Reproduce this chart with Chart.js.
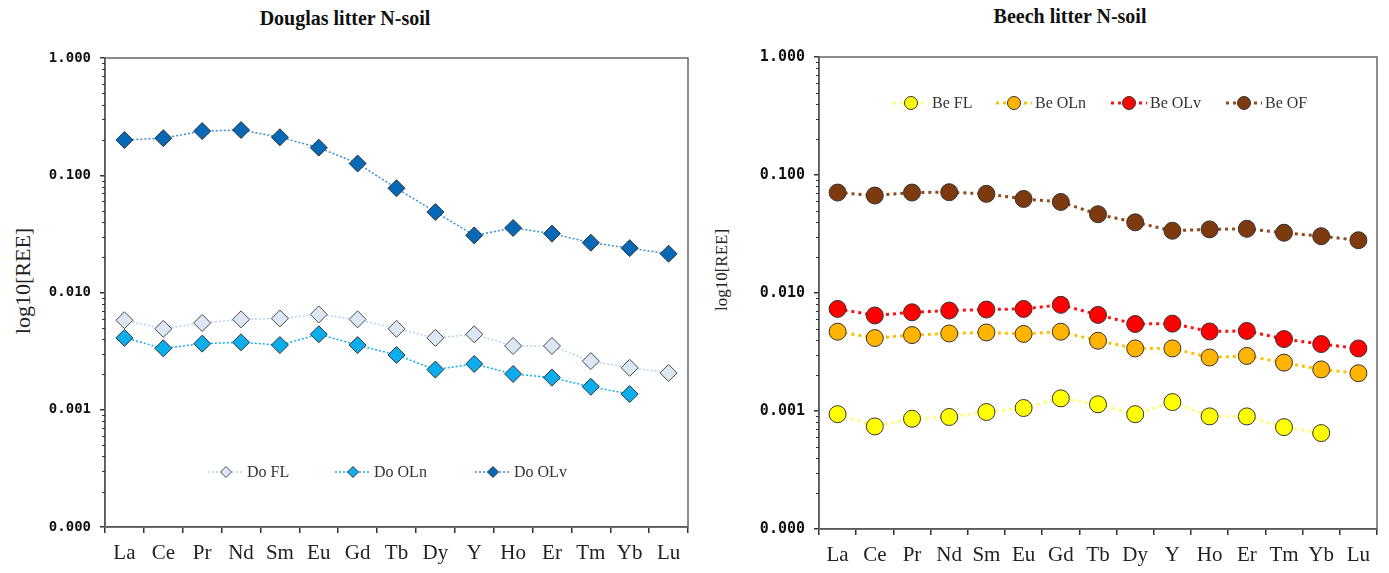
<!DOCTYPE html>
<html>
<head>
<meta charset="utf-8">
<script src="https://cdn.jsdelivr.net/npm/chart.js@4.4.0/dist/chart.umd.min.js"></script>
<style>
    body { margin: 0; background: #fff; width: 1389px; height: 573px; position: relative; overflow: hidden; font-family: "Liberation Serif", "Times New Roman", serif; }
    canvas { position: absolute; top: 0; }
    .titulo { position: absolute; font-weight: bold; font-size: 20px; color: #111; transform: translateX(-50%); white-space: nowrap; }
    .eixo { position: absolute; transform: translate(-50%, -50%) rotate(-90deg); white-space: nowrap; color: #222; }
</style>
</head>
<body>
<div class="titulo" style="left:345px; top:7px;">Douglas litter N-soil</div>
<div class="titulo" style="left:1070px; top:5px;">Beech litter N-soil</div>
<div class="eixo" style="left:23px; top:281px; font-size:22px;">log10[REE]</div>
<div class="eixo" style="left:722px; top:270px; font-size:17px;">log10[REE]</div>
<canvas id="chartDouglas" width="700" height="573" style="left:0px;"></canvas>
<canvas id="chartBeech" width="689" height="573" style="left:700px;"></canvas>
<script>
// Elementos (eixo x) e marcas do eixo y
const elementos = ['La', 'Ce', 'Pr', 'Nd', 'Sm', 'Eu', 'Gd', 'Tb', 'Dy', 'Y', 'Ho', 'Er', 'Tm', 'Yb', 'Lu'];
const yTicks = [0.0001, 0.001, 0.01, 0.1, 1];

// Douglas
const doFL  = [0.0058, 0.0049, 0.0055, 0.0059, 0.0060, 0.0065, 0.0059, 0.0049, 0.0041, 0.0044, 0.0035, 0.0035, 0.0026, 0.00228, 0.00206];
const doOLn = [0.0041, 0.00334, 0.00366, 0.00376, 0.00356, 0.0044, 0.00356, 0.00293, 0.0022, 0.00246, 0.00202, 0.00188, 0.00157, 0.00136, null];
const doOLv = [0.200, 0.207, 0.238, 0.243, 0.211, 0.172, 0.126, 0.0774, 0.0486, 0.0307, 0.0355, 0.0318, 0.0266, 0.0239, 0.0214];

// Beech
const beFL  = [0.00094, 0.00074, 0.00086, 0.00089, 0.00098, 0.00106, 0.00128, 0.00114, 0.00094, 0.00119, 0.0009, 0.0009, 0.00073, 0.00065, null];
const beOLn = [0.0047, 0.00415, 0.0044, 0.00454, 0.00463, 0.0045, 0.0047, 0.00394, 0.00339, 0.00339, 0.00284, 0.00293, 0.00257, 0.00225, 0.00209];
const beOLv = [0.00733, 0.00645, 0.00686, 0.0071, 0.00724, 0.00733, 0.00794, 0.00652, 0.00546, 0.0055, 0.00472, 0.00477, 0.00407, 0.00369, 0.00339];
const beOF  = [0.071, 0.067, 0.071, 0.0715, 0.0692, 0.0627, 0.0591, 0.0465, 0.0397, 0.0337, 0.0346, 0.035, 0.0324, 0.0303, 0.028];

function desenharMarcador(ctx, estilo, x, y, r, fundo, borda) {
    ctx.beginPath();
    if (estilo === 'rectRot') {
        ctx.moveTo(x, y - r);
        ctx.lineTo(x + r, y);
        ctx.lineTo(x, y + r);
        ctx.lineTo(x - r, y);
        ctx.closePath();
    } else {
        ctx.arc(x, y, r, 0, Math.PI * 2);
    }
    ctx.fillStyle = fundo;
    ctx.fill();
    ctx.lineWidth = 1;
    ctx.strokeStyle = borda;
    ctx.stroke();
}

// Moldura da area do grafico + marcas menores do eixo log
const moldura = {
    id: 'moldura',
    beforeDatasetsDraw(chart) {
        const a = chart.chartArea;
        const ctx = chart.ctx;
        const y = chart.scales.y;
        ctx.save();
        ctx.strokeStyle = '#666';
        ctx.lineWidth = 1.5;
        ctx.strokeRect(a.left, a.top, a.right - a.left, a.bottom - a.top);
        ctx.strokeStyle = '#333';
        ctx.lineWidth = 1;
        for (let i = 0; i < yTicks.length - 1; i++) {
            for (let k = 2; k <= 9; k++) {
                const py = Math.round(y.getPixelForValue(yTicks[i] * k)) + 0.5;
                ctx.beginPath();
                ctx.moveTo(a.left - 3, py);
                ctx.lineTo(a.left, py);
                ctx.stroke();
            }
        }
        ctx.restore();
    }
};

const legendaInterna = {
    id: 'legendaInterna',
    afterDatasetsDraw(chart, args, opts) {
        const ctx = chart.ctx;
        ctx.save();
        chart.data.datasets.forEach(function(ds, i) {
            const cx = opts.xs[i];
            const cy = opts.y;
            ctx.strokeStyle = ds.borderColor;
            ctx.lineWidth = ds.borderWidth;
            ctx.setLineDash(ds.borderDash);
            ctx.beginPath();
            ctx.moveTo(cx - opts.meia, cy);
            ctx.lineTo(cx + opts.meia, cy);
            ctx.stroke();
            ctx.setLineDash([]);
            desenharMarcador(ctx, ds.pointStyle, cx, cy, opts.raio, ds.pointBackgroundColor, ds.pointBorderColor);
            ctx.fillStyle = '#333';
            ctx.font = opts.fonte;
            ctx.textBaseline = 'middle';
            ctx.fillText(ds.label, cx + opts.gap, cy + 1);
        });
        ctx.restore();
    }
};

function serie(label, dados, linha, fundo, borda, estilo, raio, espessura, traco) {
    return {
        label: label,
        data: dados,
        borderColor: linha,
        borderWidth: espessura,
        borderDash: traco,
        pointStyle: estilo,
        pointRadius: raio,
        pointHoverRadius: raio,
        pointBackgroundColor: fundo,
        pointBorderColor: borda,
        pointBorderWidth: 1,
        fill: false,
        tension: 0,
        spanGaps: false
    };
}

function criarGrafico(id, datasets, larguraY, alturaX, padding, fonteTick, legenda) {
    return new Chart(document.getElementById(id).getContext('2d'), {
        type: 'line',
        data: { labels: elementos, datasets: datasets },
        options: {
            responsive: false,
            animation: false,
            layout: { padding: padding },
            plugins: {
                legend: { display: false },
                tooltip: { enabled: false },
                legendaInterna: legenda
            },
            scales: {
                x: {
                    offset: true,
                    afterFit: function(s) { s.height = alturaX; },
                    ticks: {
                        font: { family: 'Liberation Serif', size: 21 },
                        color: '#222',
                        padding: 8,
                        maxRotation: 0,
                        autoSkip: false
                    },
                    grid: { offset: true, drawOnChartArea: false, tickLength: 6, color: '#333', lineWidth: 1.5 },
                    border: { color: '#333', width: 1.5 }
                },
                y: {
                    type: 'logarithmic',
                    min: 0.0001,
                    max: 1,
                    afterBuildTicks: function(s) { s.ticks = yTicks.map(v => ({ value: v })); },
                    afterFit: function(s) { s.width = larguraY; },
                    ticks: {
                        callback: function(v) { return Number(v).toFixed(3); },
                        font: { family: 'DejaVu Sans Mono', weight: 'bold', size: fonteTick },
                        color: '#111',
                        padding: 9,
                        autoSkip: false
                    },
                    grid: { drawOnChartArea: false, tickLength: 5, color: '#333', lineWidth: 1.5 },
                    border: { color: '#333', width: 1.5 }
                }
            }
        },
        plugins: [moldura, legendaInterna]
    });
}

document.addEventListener('DOMContentLoaded', function() {
    const tracoD = [2, 2];
    criarGrafico('chartDouglas', [
        serie('Do FL', doFL, '#b8d2ee', '#dde7f3', '#4a4a4a', 'rectRot', 8.5, 1.5, tracoD),
        serie('Do OLn', doOLn, '#10aee8', '#0badec', '#333', 'rectRot', 8.5, 1.5, tracoD),
        serie('Do OLv', doOLv, '#3b8fd6', '#0569b7', '#333', 'rectRot', 8.5, 1.5, tracoD)
    ], 105, 46, { left: 0, right: 12, top: 58, bottom: 0 }, 14, {
        xs: [226, 353, 493], y: 472, meia: 18, raio: 5.5, gap: 21,
        fonte: '16px "Liberation Serif"'
    });

    const tracoB = [3, 4];
    criarGrafico('chartBeech', [
        serie('Be FL', beFL, '#ffff70', '#ffff00', '#333', 'circle', 8.5, 3, tracoB),
        serie('Be OLn', beOLn, '#ffc000', '#ffb400', '#333', 'circle', 8.5, 3, tracoB),
        serie('Be OLv', beOLv, '#ff1010', '#ff0000', '#333', 'circle', 8.5, 3, tracoB),
        serie('Be OF', beOF, '#8f4a1c', '#7d3a0e', '#333', 'circle', 8.5, 3, tracoB)
    ], 119, 44, { left: 0, right: 12, top: 57, bottom: 0 }, 15, {
        xs: [211, 314, 429, 544], y: 103, meia: 18, raio: 6.5, gap: 21,
        fonte: '16px "Liberation Serif"'
    });
});
</script>
</body>
</html>
